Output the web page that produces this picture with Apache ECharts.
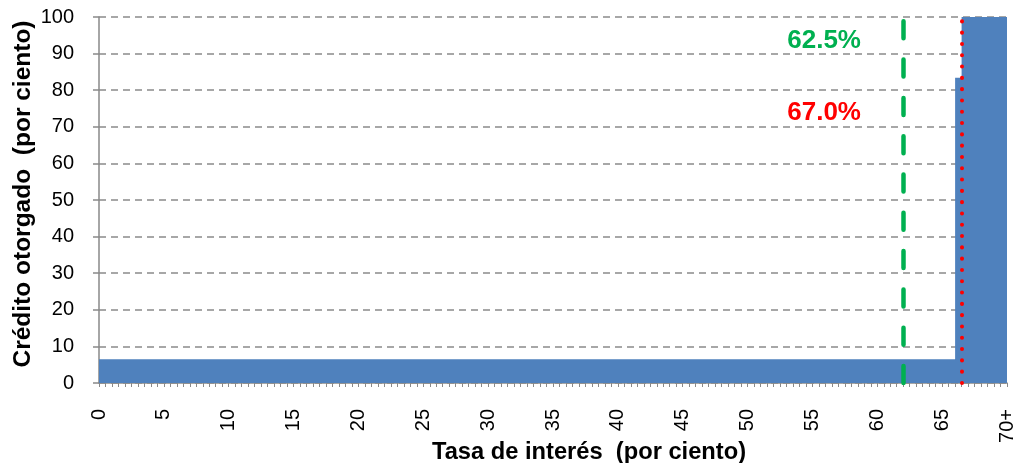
<!DOCTYPE html>
<html>
<head>
<meta charset="utf-8">
<script src="https://cdn.jsdelivr.net/npm/echarts@6/dist/echarts.min.js"></script>
<style>
html,body{margin:0;padding:0;background:#fff;}
#chart{width:1018px;height:463px;}
</style>
</head>
<body>
<div id="chart"></div>
<script>
// Interest-rate thresholds (per cent) where the cumulative credit share changes
const rateBreaks = [0, 66, 66.5, 70];
// Cumulative credit granted (per cent) from each threshold on
const creditShare = [6.5, 83.4, 100, 100];
// x-axis tick labels (every 5 points)
const xTickValues = [0, 5, 10, 15, 20, 25, 30, 35, 40, 45, 50, 55, 60, 65, 70];
const xTickLabels = ['0', '5', '10', '15', '20', '25', '30', '35', '40', '45', '50', '55', '60', '65', '70+'];
// reference rates
const greenRate = 62;
const redRate = 66.5;
const greenLabel = '62.5%';
const redLabel = '67.0%';
// label anchor positions (data coordinates)
const greenLabelPos = [55.9, 93.6];
const redLabelPos = [55.9, 73.9];

const FONT = '"Liberation Sans", Arial, sans-serif';
const seriesData = rateBreaks.map((r, i) => [r, creditShare[i]]);

const chart = echarts.init(document.getElementById('chart'), null, {renderer: 'canvas'});
chart.setOption({
  animation: false,
  backgroundColor: '#ffffff',
  grid: {left: 99, right: 11, top: 17, bottom: 80, containLabel: false, outerBoundsMode: 'none'},
  xAxis: {
    type: 'value',
    min: 0, max: 70, interval: 5,
    name: 'Tasa de interés  (por ciento)',
    nameLocation: 'middle',
    nameGap: 57,
    nameMoveOverlap: false,
    nameTextStyle: {fontFamily: FONT, fontWeight: 'bold', fontSize: 23.7, color: '#000', padding: [0, 0, 0, 72]},
    axisLine: {show: true, lineStyle: {color: '#898989', width: 1.5}},
    axisTick: {show: true, length: 4, lineStyle: {color: '#898989', width: 1}},
    minorTick: {show: true, splitNumber: 10, length: 4, lineStyle: {color: '#898989', width: 1}},
    splitLine: {show: false},
    axisLabel: {
      rotate: 90, margin: 26, fontFamily: FONT, fontSize: 20, color: '#000',
      formatter: v => { const i = xTickValues.indexOf(v); return i >= 0 ? xTickLabels[i] : ''; }
    }
  },
  yAxis: {
    type: 'value',
    min: 0, max: 100, interval: 10,
    name: 'Crédito otorgado  (por ciento)',
    nameLocation: 'middle',
    nameGap: 63,
    nameMoveOverlap: false,
    nameTextStyle: {fontFamily: FONT, fontWeight: 'bold', fontSize: 24.5, color: '#000', padding: [0, 0, 0, 12]},
    axisLine: {show: true, lineStyle: {color: '#898989', width: 1.5}},
    axisTick: {show: true, length: 6, lineStyle: {color: '#898989', width: 1.5}},
    splitLine: {show: true, lineStyle: {color: '#8a8a8a', width: 1.5, type: [7, 5]}},
    axisLabel: {margin: 25, fontFamily: FONT, fontSize: 20, color: '#000'}
  },
  series: [{
    type: 'line',
    step: 'end',
    data: seriesData,
    showSymbol: false,
    symbol: 'none',
    lineStyle: {width: 0, color: '#4F81BD'},
    areaStyle: {color: '#4F81BD', opacity: 1},
    z: 2,
    markLine: {
      silent: true,
      symbol: ['none', 'none'],
      label: {show: false},
      data: [
        {xAxis: greenRate, lineStyle: {color: '#00B050', width: 4.5, type: [17, 21.3], cap: 'round'}},
        {xAxis: redRate, lineStyle: {color: '#FF0000', width: 4, type: [0.1, 11.2], cap: 'round'}}
      ]
    },
    markPoint: {
      silent: true,
      symbol: 'circle',
      symbolSize: 0,
      data: [
        {coord: greenLabelPos, value: greenLabel,
         label: {show: true, position: 'inside', formatter: greenLabel, fontFamily: FONT, fontWeight: 'bold', fontSize: 26, color: '#00B050'}},
        {coord: redLabelPos, value: redLabel,
         label: {show: true, position: 'inside', formatter: redLabel, fontFamily: FONT, fontWeight: 'bold', fontSize: 26, color: '#FF0000'}}
      ]
    }
  }]
});
</script>
</body>
</html>
